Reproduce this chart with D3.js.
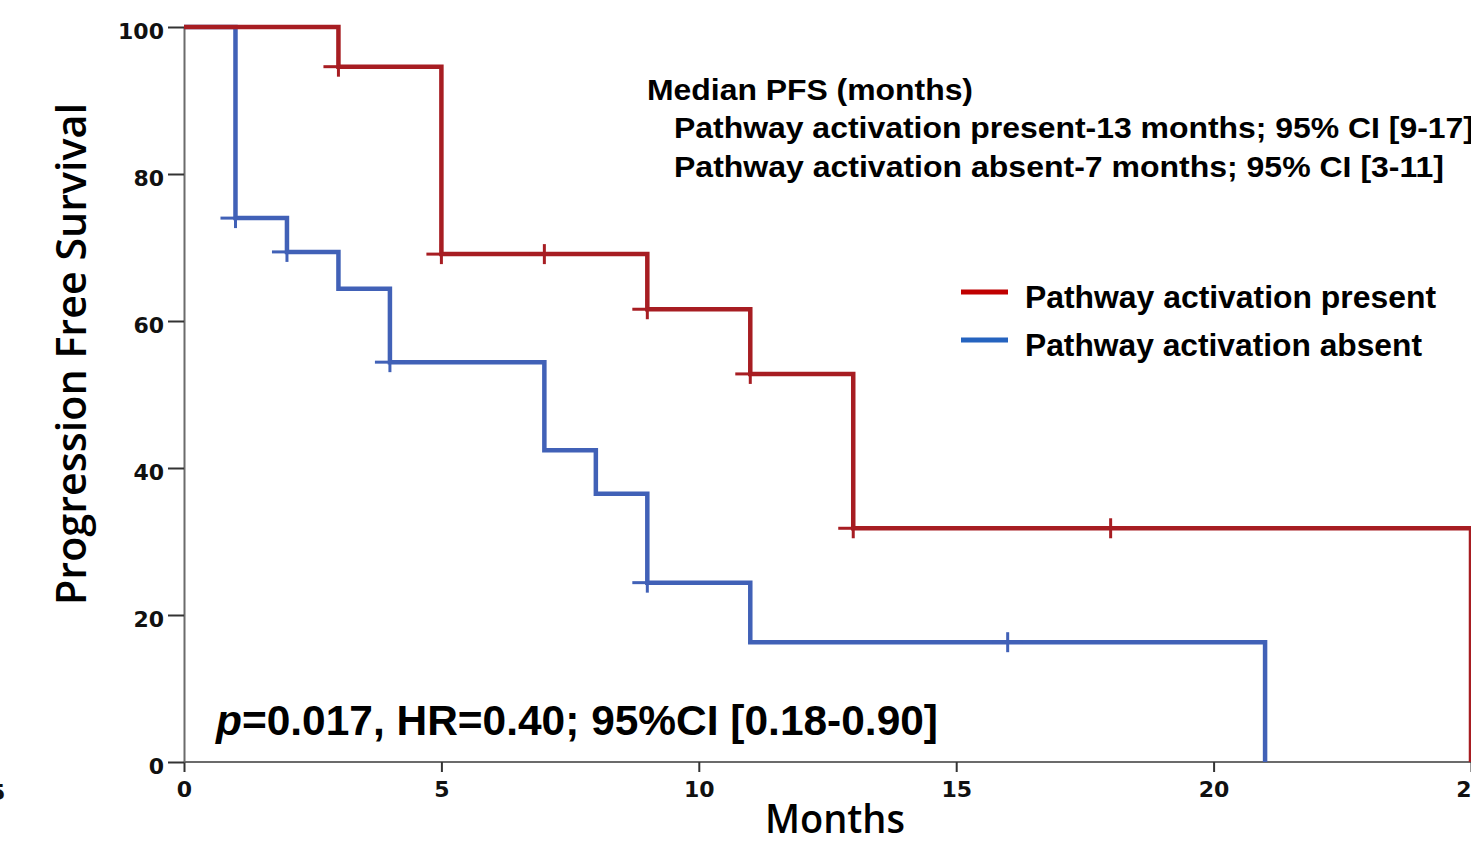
<!DOCTYPE html>
<html>
<head>
<meta charset="utf-8">
<script src="https://cdn.jsdelivr.net/npm/d3@7"></script>
<style>
  html, body { margin: 0; padding: 0; background: #fff; overflow: hidden; }
  svg { display: block; }
</style>
</head>
<body>
<div id="chart"></div>
<script>
// Kaplan-Meier data (months, % progression free)
const presentTimes = [0, 3, 5, 9, 11, 13, 25];
const presentSurv = [100, 94.6, 69.1, 61.6, 52.8, 31.8, 0];
const presentCensored = [3, 5, 7, 9, 11, 13, 18];

const absentTimes = [0, 1, 2, 3, 4, 7, 8, 9, 11, 21];
const absentSurv = [100, 74.0, 69.4, 64.4, 54.4, 42.4, 36.5, 24.4, 16.3, 0];
const absentCensored = [1, 2, 4, 9, 16];

const xTicks = [0, 5, 10, 15, 20, 25];
const yTicks = [0, 20, 40, 60, 80, 100];

const legendLabels = ['Pathway activation present', 'Pathway activation absent'];
const medianLines = [
  'Median PFS (months)',
  'Pathway activation present-13 months; 95% CI [9-17]',
  'Pathway activation absent-7 months; 95% CI [3-11]'
];

const width = 1471, height = 844;
const margin = {top: 27, right: 0, bottom: 82, left: 184};

const svg = d3.select('#chart').append('svg')
  .attr('width', width)
  .attr('height', height);

const x = d3.scaleLinear().domain([0, 25]).range([margin.left, 1471]);
const y = d3.scaleLinear().domain([0, 100]).range([height - margin.bottom, margin.top]);

// axes
const xAxis = svg.append('g')
  .attr('transform', `translate(0, ${y(0)})`)
  .call(d3.axisBottom(x).tickValues(xTicks).tickSize(10).tickSizeOuter(0).tickPadding(7));
const yAxis = svg.append('g')
  .attr('transform', `translate(${x(0)}, 0)`)
  .call(d3.axisLeft(y).tickValues(yTicks).tickSize(16).tickSizeOuter(0).tickPadding(4));

[xAxis, yAxis].forEach(a => {
  a.select('.domain').attr('stroke', '#6b6b6b').attr('stroke-width', 2);
  a.selectAll('.tick line').attr('stroke', '#333').attr('stroke-width', 2);
  a.selectAll('.tick text')
    .attr('fill', '#111')
    .attr('font-family', 'DejaVu Sans, Verdana, sans-serif')
    .attr('font-weight', 'bold')
    .attr('font-size', 22);
});
xAxis.selectAll('.tick text').attr('dy', '0.8em');
yAxis.selectAll('.tick text').attr('dy', '0.5em');
xAxis.select('.domain').attr('d', `M${x(0)},0H${width}`);

// stray label from neighbouring panel on the left edge
svg.append('text')
  .attr('x', -10).attr('y', 800)
  .attr('font-family', 'DejaVu Sans, Verdana, sans-serif')
  .attr('font-weight', 'bold').attr('font-size', 22)
  .attr('fill', '#111')
  .text('5');

// KM curves
const line = d3.line()
  .x(d => x(d[0]))
  .y(d => y(d[1]))
  .curve(d3.curveStepAfter);

function survAt(times, surv, t) {
  let s = surv[0];
  times.forEach((tt, i) => { if (tt <= t) s = surv[i]; });
  return s;
}

const curves = [
  {times: absentTimes, surv: absentSurv, cens: absentCensored, color: '#4161b7'},
  {times: presentTimes, surv: presentSurv, cens: presentCensored, color: '#a71d22'}
];

curves.forEach(c => {
  svg.append('path')
    .datum(d3.zip(c.times, c.surv))
    .attr('d', line)
    .attr('fill', 'none')
    .attr('stroke', c.color)
    .attr('stroke-width', 4.5);

  const marks = svg.append('g');
  c.cens.forEach(t => {
    const cx = x(t), cy = y(survAt(c.times, c.surv, t));
    marks.append('line')
      .attr('x1', cx).attr('x2', cx).attr('y1', cy - 10).attr('y2', cy + 10)
      .attr('stroke', c.color).attr('stroke-width', 3);
    marks.append('line')
      .attr('x1', cx - 15).attr('x2', cx + 15).attr('y1', cy).attr('y2', cy)
      .attr('stroke', c.color).attr('stroke-width', 3);
  });
});

// axis titles
svg.append('text')
  .attr('transform', `translate(86, 354) rotate(-90)`)
  .attr('text-anchor', 'middle')
  .attr('font-family', 'Open Sans, sans-serif')
  .attr('font-weight', 600)
  .attr('font-size', 41)
  .attr('textLength', 502)
  .attr('lengthAdjust', 'spacingAndGlyphs')
  .attr('fill', '#000')
  .text('Progression Free Survival');

svg.append('text')
  .attr('x', 835).attr('y', 833)
  .attr('text-anchor', 'middle')
  .attr('font-family', 'Open Sans, sans-serif')
  .attr('font-weight', 600)
  .attr('font-size', 40)
  .attr('textLength', 140)
  .attr('lengthAdjust', 'spacingAndGlyphs')
  .attr('fill', '#000')
  .text('Months');

// median PFS annotation
const medianX = [647, 674, 674];
const medianY = [100, 138, 177];
const medianW = [326, 800, 770];
medianLines.forEach((t, i) => {
  svg.append('text')
    .attr('x', medianX[i]).attr('y', medianY[i])
    .attr('font-family', 'Liberation Sans, Arial, sans-serif')
    .attr('font-weight', 'bold')
    .attr('font-size', 30)
    .attr('textLength', medianW[i])
    .attr('lengthAdjust', 'spacingAndGlyphs')
    .attr('fill', '#000')
    .text(t);
});

// legend
const legendColors = ['#c00000', '#2563bf'];
const legendY = [292, 340];
const legendW = [411, 397];
legendLabels.forEach((t, i) => {
  svg.append('line')
    .attr('x1', 961).attr('x2', 1008)
    .attr('y1', legendY[i]).attr('y2', legendY[i])
    .attr('stroke', legendColors[i]).attr('stroke-width', 5);
  svg.append('text')
    .attr('x', 1025).attr('y', legendY[i] + 16)
    .attr('font-family', 'Liberation Sans, Arial, sans-serif')
    .attr('font-weight', 'bold')
    .attr('font-size', 31)
    .attr('textLength', legendW[i])
    .attr('lengthAdjust', 'spacingAndGlyphs')
    .attr('fill', '#000')
    .text(t);
});

// statistics
const stat = svg.append('text')
  .attr('x', 216).attr('y', 735)
  .attr('font-family', 'Liberation Sans, Arial, sans-serif')
  .attr('font-weight', 'bold')
  .attr('font-size', 42)
  .attr('textLength', 722)
  .attr('lengthAdjust', 'spacingAndGlyphs')
  .attr('fill', '#000');
stat.append('tspan').attr('font-style', 'italic').text('p');
stat.append('tspan').text('=0.017, HR=0.40; 95%CI [0.18-0.90]');
</script>
</body>
</html>
